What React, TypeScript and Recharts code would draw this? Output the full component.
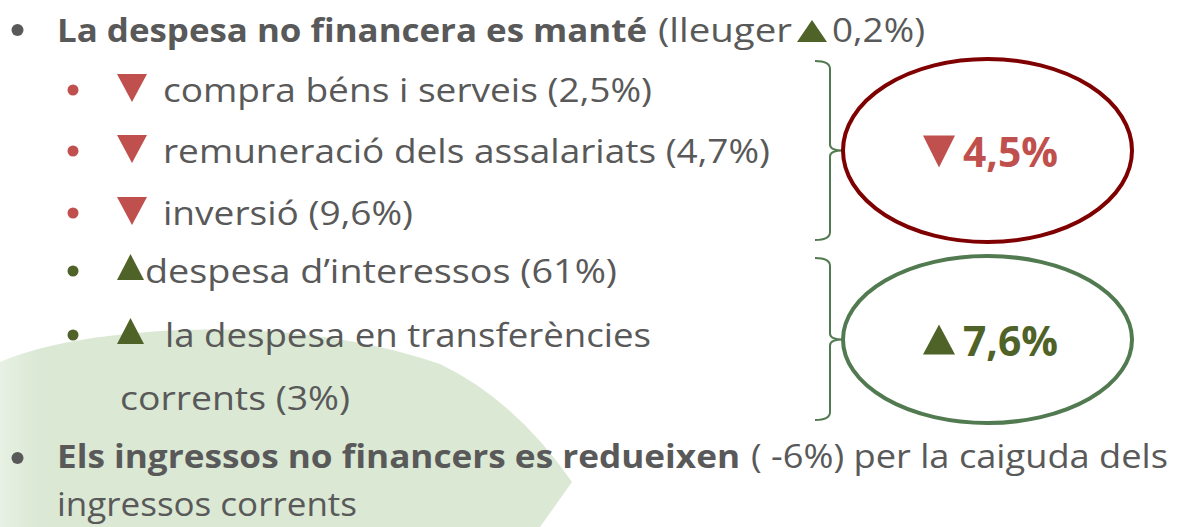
import React from "react";
import { ScatterChart, Scatter, XAxis, YAxis } from "recharts";

// slide values
const SPENDING_TITLE = "La despesa no financera es manté";
const SPENDING_CHANGE = 0.2;
const ITEM_LABELS = [
  "compra béns i serveis",
  "remuneració dels assalariats",
  "inversió",
  "despesa d’interessos",
  "la despesa en transferències",
];
const ITEM_CHANGES = [-2.5, -4.7, -9.6, 61, 3];
const WRAPPED_TAIL = "corrents";
const GROUP_TOTALS = [-4.5, 7.6];
const INCOME_TITLE = "Els ingressos no financers es redueixen";
const INCOME_CHANGE = -6;
const INCOME_REASON = ["per la caiguda dels", "ingressos corrents"];

const W = 1185;
const H = 527;
const FONT = "'Open Sans', Lato, sans-serif";
const GRAY = "#595959";
const RED = "#C0504D";
const DARK_RED = "#7F0000";
const GREEN = "#4F6228";
const LINE_GREEN = "#527A50";
const FS = 33;

// layout: text baselines, start x and measured widths of the lines
const ROW_Y = [42, 102, 163, 225, 283, 347, 410, 468, 516];
const ITEM_TEXT_X = [163, 163, 163, 145, 165];
const ITEM_TEXT_W = [489, 607, 250, 472, 486];
const GROUPS = [
  { cy: 150.5, ry: 91.5, top: 61, bottom: 240 },
  { cy: 339.5, ry: 83.5, top: 258, bottom: 420 },
];

const pct = (v: number) => `${Math.abs(v)}`.replace(".", ",") + "%";

const down = (x: number, top: number, w: number, h: number, fill: string) => (
  <polygon points={`${x},${top} ${x + w},${top} ${x + w / 2},${top + h}`} fill={fill} />
);
const up = (x: number, top: number, w: number, h: number, fill: string) => (
  <polygon points={`${x + w / 2},${top} ${x + w},${top + h} ${x},${top + h}`} fill={fill} />
);

// the slide text is wide and short, so glyphs are stretched to the measured widths
const txt = (x: number, y: number, s: string, len?: number, extra: any = {}) => (
  <text
    x={x}
    y={y}
    fontFamily={FONT}
    fontSize={FS}
    fill={GRAY}
    textLength={len}
    lengthAdjust="spacingAndGlyphs"
    {...extra}
  >
    {s}
  </text>
);

const rows = ROW_Y.map((y, i) => ({ x: 0, y, row: i }));
const groupPoints = GROUP_TOTALS.map((v, i) => ({ x: 987.5, y: GROUPS[i].cy, g: i, v }));

function RowShape(props: any) {
  const { cy, payload } = props;
  const r = payload.row;
  if (r === 0) {
    return (
      <g>
        <circle cx={17.5} cy={cy - 12} r={6} fill={GRAY} />
        {txt(57, cy, SPENDING_TITLE, 590, { fontWeight: 700 })}
        {txt(658, cy, "(lleuger", 134)}
        {up(797, cy - 22, 30, 22, GREEN)}
        {txt(832, cy, pct(SPENDING_CHANGE) + ")", 93)}
      </g>
    );
  }
  if (r >= 1 && r <= 5) {
    const k = r - 1;
    const neg = ITEM_CHANGES[k] < 0;
    const col = neg ? RED : GREEN;
    const wrapped = k === 4;
    return (
      <g>
        <circle cx={73} cy={cy - 12} r={5.5} fill={col} />
        {neg ? down(117, cy - 28, 30, 28, col) : up(117, cy - 29, 27, 26, col)}
        {txt(
          ITEM_TEXT_X[k],
          cy,
          wrapped ? ITEM_LABELS[k] : `${ITEM_LABELS[k]} (${pct(ITEM_CHANGES[k])})`,
          ITEM_TEXT_W[k]
        )}
      </g>
    );
  }
  if (r === 6) {
    return <g>{txt(120, cy, `${WRAPPED_TAIL} (${pct(ITEM_CHANGES[4])})`, 230)}</g>;
  }
  if (r === 7) {
    return (
      <g>
        <circle cx={17.5} cy={cy - 10} r={6} fill={GRAY} />
        {txt(57, cy, INCOME_TITLE, 683, { fontWeight: 700 })}
        {txt(751, cy, `( -${pct(INCOME_CHANGE)}) ${INCOME_REASON[0]}`, 417)}
      </g>
    );
  }
  return <g>{txt(57, cy, INCOME_REASON[1], 300)}</g>;
}

function GroupShape(props: any) {
  const { cx, cy, payload } = props;
  const g = GROUPS[payload.g];
  const neg = payload.v < 0;
  const mid = cy;
  const brace = `M815,${g.top} Q830,${g.top} 830,${g.top + 8} L830,${mid - 6} Q830,${mid} 843,${mid} Q830,${mid} 830,${mid + 6} L830,${g.bottom - 8} Q830,${g.bottom} 815,${g.bottom}`;
  return (
    <g>
      <path d={brace} fill="none" stroke={LINE_GREEN} strokeWidth={2} />
      <ellipse
        cx={cx}
        cy={cy}
        rx={144.5}
        ry={g.ry}
        fill="none"
        stroke={neg ? DARK_RED : LINE_GREEN}
        strokeWidth={4}
      />
      {neg ? down(923, cy - 15, 32, 32, RED) : up(923, cy - 15, 32, 30, GREEN)}
      <text
        x={963}
        y={cy + 16}
        fontFamily={FONT}
        fontSize={42}
        fontWeight={700}
        fill={neg ? RED : GREEN}
        textLength={95}
        lengthAdjust="spacingAndGlyphs"
      >
        {pct(payload.v)}
      </text>
    </g>
  );
}

function Backdrop() {
  return (
    <g>
      <defs>
        <linearGradient id="bgfade" x1="0" x2="1" y1="0" y2="0">
          <stop offset="0" stopColor="#e8f1e4" />
          <stop offset="0.07" stopColor="#dae8d4" />
          <stop offset="1" stopColor="#dae8d4" />
        </linearGradient>
      </defs>
      <path
        d="M0,362 Q60,336 180,330 Q330,326 440,364 Q515,400 572,482 L540,527 L0,527 Z"
        fill="url(#bgfade)"
      />
    </g>
  );
}

export default function App() {
  return (
    <div style={{ position: "absolute", left: 0, top: 0, background: "#fff" }}>
      <ScatterChart width={W} height={H} margin={{ top: 0, right: 0, bottom: 0, left: 0 }}>
        <XAxis type="number" dataKey="x" domain={[0, W]} allowDataOverflow hide />
        <YAxis type="number" dataKey="y" domain={[0, H]} allowDataOverflow reversed hide />
        <Scatter data={[{ x: 0, y: 0 }]} shape={() => <Backdrop />} isAnimationActive={false} />
        <Scatter data={groupPoints} shape={GroupShape} isAnimationActive={false} />
        <Scatter data={rows} shape={RowShape} isAnimationActive={false} />
      </ScatterChart>
    </div>
  );
}
